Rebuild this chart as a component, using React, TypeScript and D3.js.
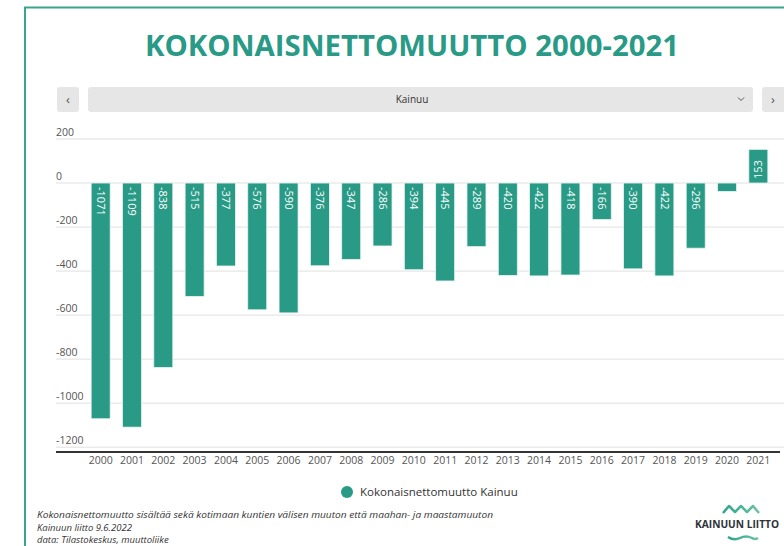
import React from "react";
import * as d3 from "d3";

const years = [
  "2000", "2001", "2002", "2003", "2004", "2005", "2006", "2007", "2008", "2009", "2010",
  "2011", "2012", "2013", "2014", "2015", "2016", "2017", "2018", "2019", "2020", "2021",
];
const netMigration = [
  -1071, -1109, -838, -515, -377, -576, -590, -376, -347, -286, -394,
  -445, -289, -420, -422, -418, -166, -390, -422, -296, -38, 153,
];
const yTicks = [200, 0, -200, -400, -600, -800, -1000, -1200];
const footerLines = [
  "Kokonaisnettomuutto sisältää sekä kotimaan kuntien välisen muuton että maahan- ja maastamuuton",
  "Kainuun liitto 9.6.2022",
  "data: Tilastokeskus, muuttoliike",
];

const teal = "#289a86";
const font = "'Open Sans', 'DejaVu Sans', sans-serif";

const App = () => {
  const width = 784;
  const height = 546;
  const left = 56;
  const right = 784;

  const x = d3.scaleBand().domain(years).range([85, 774]).paddingInner(0.393).paddingOuter(0.1965);
  const y = d3.scaleLinear().domain([-1222, 200]).range([452, 139]);

  return (
    <svg
      width={width}
      height={height}
      style={{ position: "absolute", left: 0, top: 0, fontFamily: font }}
    >
      <rect x={0} y={0} width={width} height={height} fill="#fff" />
      {/* card border */}
      <path d={`M25,${height} L25,7.5 L${width},7.5`} fill="none" stroke="#3aa58f" strokeWidth={2} />

      <text
        x={412}
        y={56}
        textAnchor="middle"
        fill={teal}
        fontSize={28}
        fontWeight="bold"
        textLength={534}
        lengthAdjust="spacingAndGlyphs"
      >
        KOKONAISNETTOMUUTTO 2000-2021
      </text>

      {/* region selector */}
      <rect x={57} y={87} width={22} height={25} rx={3} fill="#e6e6e6" />
      <text x={68} y={104} textAnchor="middle" fontSize={13} fill="#555">‹</text>
      <rect x={88} y={87} width={665} height={25} rx={3} fill="#e6e6e6" />
      <text x={412} y={103} textAnchor="middle" fontSize={10} fill="#333">Kainuu</text>
      <path d="M738,97.5 l3,3 l3,-3" fill="none" stroke="#555" strokeWidth={1} />
      <rect x={762} y={87} width={30} height={25} rx={3} fill="#e6e6e6" />
      <text x={773} y={104} textAnchor="middle" fontSize={13} fill="#555">›</text>

      {/* grid + y labels */}
      {yTicks.map((t) => (
        <g key={t}>
          <line x1={left} x2={right} y1={y(t)} y2={y(t)} stroke="#e0e0e0" strokeWidth={1} />
          <text x={left} y={y(t) - 3} fontSize={10.5} fill="#555">
            {t}
          </text>
        </g>
      ))}

      {/* bars */}
      {netMigration.map((v, i) => {
        const yr = years[i];
        const bx = x(yr) as number;
        const top = y(Math.max(0, v));
        const h = Math.abs(y(v) - y(0));
        const cx = bx + x.bandwidth() / 2;
        const showLabel = h > 30;
        return (
          <g key={yr}>
            <rect x={bx} y={top} width={x.bandwidth()} height={h} fill={teal} stroke="#e8f4f1" strokeWidth={0.8} />
            {showLabel && (
              <text
                transform={
                  v < 0
                    ? `translate(${cx},${y(0) + 4}) rotate(90)`
                    : `translate(${cx},${y(0) - 4}) rotate(-90)`
                }
                dy="0.35em"
                fontSize={11}
                fill="#fff"
              >
                {v}
              </text>
            )}
          </g>
        );
      })}

      {/* x axis */}
      <line x1={left} x2={780} y1={452} y2={452} stroke="#333" strokeWidth={2} />
      {years.map((yr) => (
        <text
          key={yr}
          x={(x(yr) as number) + x.bandwidth() / 2}
          y={464}
          textAnchor="middle"
          fontSize={10.5}
          fill="#555"
        >
          {yr}
        </text>
      ))}

      {/* legend */}
      <circle cx={347} cy={492} r={6} fill={teal} />
      <text x={360} y={496} fontSize={11.5} fill="#333">Kokonaisnettomuutto Kainuu</text>

      {/* footer */}
      {footerLines.map((line, i) => (
        <text
          key={i}
          x={37}
          y={518 + i * 12.5}
          fontSize={9.5}
          fontStyle="italic"
          fill="#333"
          textLength={i === 0 ? 456 : undefined}
          lengthAdjust="spacingAndGlyphs"
        >
          {line}
        </text>
      ))}

      {/* logo */}
      <defs>
        <linearGradient id="logoGrad" x1="0" x2="1">
          <stop offset="0" stopColor="#2aa58a" />
          <stop offset="1" stopColor="#6cc3a5" />
        </linearGradient>
      </defs>
      <path
        d="M723,513 L729,506 L735,512 L741,506 L747,512 L753,506 L759,513"
        fill="none"
        stroke="url(#logoGrad)"
        strokeWidth={2.5}
        strokeLinejoin="round"
      />
      <text x={695} y={528} fontSize={11} fontWeight="bold" fill="#2e3338" textLength={84} lengthAdjust="spacingAndGlyphs">
        KAINUUN LIITTO
      </text>
      <path
        d="M728,537 Q734,541 740,538 Q746,535 752,538 Q755,540 758,538"
        fill="none"
        stroke="url(#logoGrad)"
        strokeWidth={2.5}
      />
    </svg>
  );
};

export default App;
